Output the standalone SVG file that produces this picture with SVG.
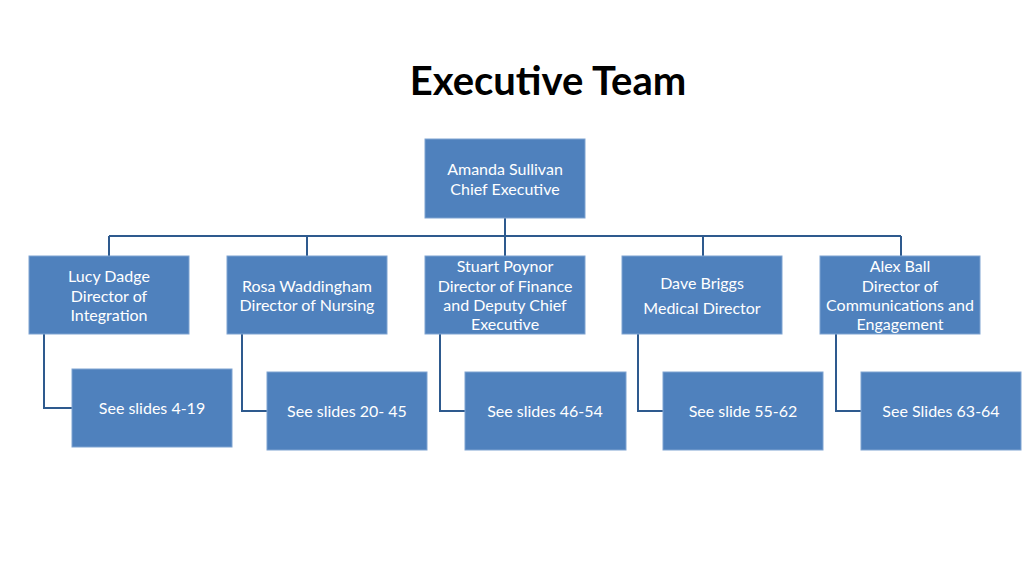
<svg xmlns="http://www.w3.org/2000/svg" width="1024" height="575" viewBox="0 0 1024 575">
<style>
.b{fill:#4F81BD;stroke:#7FA3D1;stroke-width:1}
.t{font-family:Lato,"Open Sans",sans-serif;font-size:16px;fill:#fff;text-anchor:middle}
.c{fill:none;stroke:#2E5A8E;stroke-width:2}
</style>
<rect width="1024" height="575" fill="#fff"/>
<text x="548" y="95" font-family="Lato,'Open Sans',sans-serif" font-size="40" font-weight="bold" text-anchor="middle" fill="#000">Executive Team</text>
<g id="connectors">
<path class="c" d="M505 218V236M109 236H901M109 236V256M307 236V256M505 236V256M703 236V256M901 236V256"/>
<path class="c" d="M44 334V408H72M242 334V411H267M440 334V411H465M638 334V411H663M836 334V411H861"/>
</g>
<g id="ceo"><rect class="b" x="425" y="139" width="160" height="79"/><text class="t" x="505" y="175">Amanda Sullivan</text><text class="t" x="505" y="195">Chief Executive</text></g>
<g id="lucy"><rect class="b" x="29" y="256" width="160" height="78"/><text class="t" x="109" y="282">Lucy Dadge</text><text class="t" x="109" y="302">Director of</text><text class="t" x="109" y="321">Integration</text></g>
<g id="rosa"><rect class="b" x="227" y="256" width="160" height="78"/><text class="t" x="307" y="292">Rosa Waddingham</text><text class="t" x="307" y="311">Director of Nursing</text></g>
<g id="stuart"><rect class="b" x="425" y="256" width="160" height="78"/><text class="t" x="505" y="272">Stuart Poynor</text><text class="t" x="505" y="292">Director of Finance</text><text class="t" x="505" y="311">and Deputy Chief</text><text class="t" x="505" y="330">Executive</text></g>
<g id="dave"><rect class="b" x="622" y="256" width="160" height="78"/><text class="t" x="702" y="289">Dave Briggs</text><text class="t" x="702" y="314">Medical Director</text></g>
<g id="alex"><rect class="b" x="820" y="256" width="160" height="78"/><text class="t" x="900" y="272">Alex Ball</text><text class="t" x="900" y="292">Director of</text><text class="t" x="900" y="311">Communications and</text><text class="t" x="900" y="330">Engagement</text></g>
<g id="s1"><rect class="b" x="72" y="369" width="160" height="78"/><text class="t" x="152" y="414">See slides 4-19</text></g>
<g id="s2"><rect class="b" x="267" y="372" width="160" height="78"/><text class="t" x="347" y="417">See slides 20- 45</text></g>
<g id="s3"><rect class="b" x="465" y="372" width="161" height="78"/><text class="t" x="545" y="417">See slides 46-54</text></g>
<g id="s4"><rect class="b" x="663" y="372" width="160" height="78"/><text class="t" x="743" y="417">See slide 55-62</text></g>
<g id="s5"><rect class="b" x="861" y="372" width="160" height="78"/><text class="t" x="941" y="417">See Slides 63-64</text></g>
</svg>
